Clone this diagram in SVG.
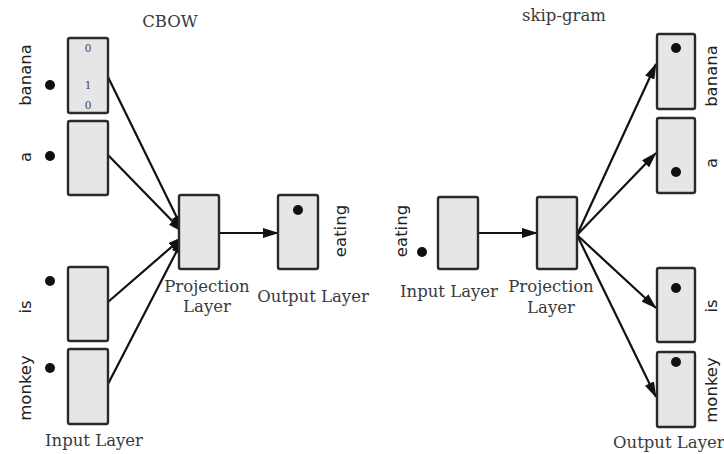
<svg xmlns="http://www.w3.org/2000/svg" width="724" height="454" viewBox="0 0 724 454">
<defs>
<style>
.box{fill:#e6e6e6;stroke:#2a2a2a;stroke-width:2.4}
.dot{fill:#111}
.ser{font-family:"DejaVu Serif","Liberation Serif",serif;font-size:16.5px;fill:#3a3a3a;text-anchor:middle}
.san{font-family:"DejaVu Sans","Liberation Sans",sans-serif;font-size:16.5px;fill:#222;text-anchor:middle}
.num{font-family:"DejaVu Serif","Liberation Serif",serif;font-size:10.5px;fill:#444;text-anchor:middle}
.edge{stroke:#111;stroke-width:2.2;fill:none;marker-end:url(#ah)}
</style>
<marker id="ah" viewBox="0 0 16 10" refX="15" refY="5" markerWidth="16" markerHeight="10" markerUnits="userSpaceOnUse" orient="auto">
<path d="M0,0 L16,5 L0,10 z" fill="#111"/>
</marker>
</defs>
<rect width="724" height="454" fill="#fff"/>
<text class="ser" x="170" y="27">CBOW</text>
<text class="ser" x="564" y="21">skip-gram</text>

<g id="connectors">
<line class="edge" x1="108" y1="77" x2="183" y2="230"/>
<line class="edge" x1="108" y1="155" x2="183" y2="232"/>
<line class="edge" x1="108" y1="302" x2="183" y2="237"/>
<line class="edge" x1="108" y1="384" x2="183" y2="239"/>
<line class="edge" x1="219" y1="233" x2="278" y2="233"/>
<line class="edge" x1="478" y1="233" x2="537" y2="233"/>
<line class="edge" x1="577" y1="235" x2="656" y2="64"/>
<line class="edge" x1="577" y1="235" x2="656" y2="153"/>
<line class="edge" x1="577" y1="235" x2="656" y2="308"/>
<line class="edge" x1="577" y1="235" x2="656" y2="397"/>
</g>

<g id="cbow-in-banana">
<rect class="box" x="68" y="38" width="40" height="75" rx="2"/>
<text class="num" x="88" y="52">0</text>
<text class="num" x="88" y="89">1</text>
<text class="num" x="88" y="109">0</text>
<circle class="dot" cx="50" cy="85" r="5"/>
<text class="san" transform="translate(31,75) rotate(-90)">banana</text>
</g>
<g id="cbow-in-a">
<rect class="box" x="68" y="121" width="40" height="74" rx="2"/>
<circle class="dot" cx="50" cy="156" r="5"/>
<text class="san" transform="translate(31,157) rotate(-90)">a</text>
</g>
<g id="cbow-in-is">
<rect class="box" x="68" y="267" width="40" height="74" rx="2"/>
<circle class="dot" cx="50" cy="281" r="5"/>
<text class="san" transform="translate(31,307) rotate(-90)">is</text>
</g>
<g id="cbow-in-monkey">
<rect class="box" x="68" y="349" width="40" height="75" rx="2"/>
<circle class="dot" cx="50" cy="368" r="5"/>
<text class="san" transform="translate(31,388) rotate(-90)">monkey</text>
</g>
<text class="ser" x="94" y="446">Input Layer</text>

<g id="cbow-proj">
<rect class="box" x="179" y="195" width="40" height="74" rx="2"/>
<text class="ser" x="207" y="292">Projection</text>
<text class="ser" x="207" y="312">Layer</text>
</g>
<g id="cbow-out">
<rect class="box" x="278" y="195" width="40" height="74" rx="2"/>
<circle class="dot" cx="298" cy="210" r="5"/>
<text class="san" transform="translate(346,231) rotate(-90)">eating</text>
<text class="ser" x="313" y="302">Output Layer</text>
</g>

<g id="sg-in">
<rect class="box" x="438" y="197" width="40" height="72" rx="2"/>
<circle class="dot" cx="422" cy="252" r="5"/>
<text class="san" transform="translate(407,231) rotate(-90)">eating</text>
<text class="ser" x="449" y="297">Input Layer</text>
</g>
<g id="sg-proj">
<rect class="box" x="537" y="197" width="40" height="72" rx="2"/>
<text class="ser" x="551" y="292">Projection</text>
<text class="ser" x="551" y="313">Layer</text>
</g>
<g id="sg-out-banana">
<rect class="box" x="657" y="34" width="38" height="75" rx="2"/>
<circle class="dot" cx="676" cy="48" r="5"/>
<text class="san" transform="translate(717,76) rotate(-90)">banana</text>
</g>
<g id="sg-out-a">
<rect class="box" x="657" y="118" width="38" height="75" rx="2"/>
<circle class="dot" cx="676" cy="172" r="5"/>
<text class="san" transform="translate(717,163) rotate(-90)">a</text>
</g>
<g id="sg-out-is">
<rect class="box" x="657" y="268" width="38" height="74" rx="2"/>
<circle class="dot" cx="676" cy="288" r="5"/>
<text class="san" transform="translate(717,306) rotate(-90)">is</text>
</g>
<g id="sg-out-monkey">
<rect class="box" x="657" y="352" width="38" height="75" rx="2"/>
<circle class="dot" cx="676" cy="362" r="5"/>
<text class="san" transform="translate(717,390) rotate(-90)">monkey</text>
</g>
<text class="ser" x="613" y="448" style="text-anchor:start">Output Layer</text>
</svg>
